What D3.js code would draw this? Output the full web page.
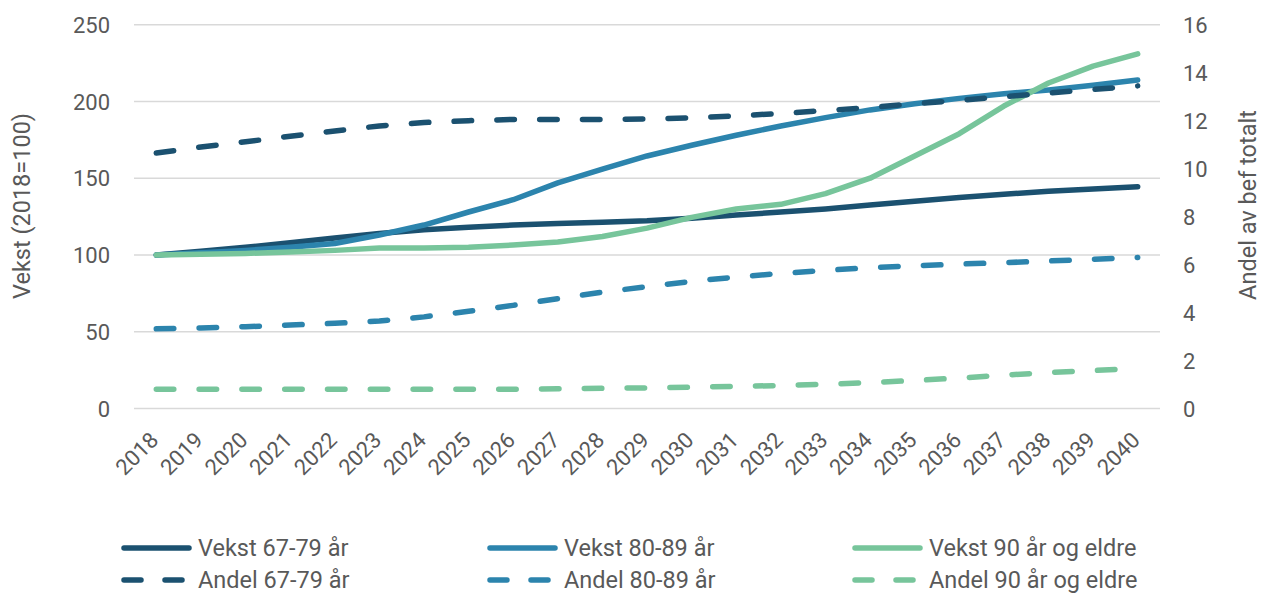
<!DOCTYPE html>
<html>
<head>
<meta charset="utf-8">
<script src="https://cdn.jsdelivr.net/npm/d3@7"></script>
<style>
  html, body { margin: 0; padding: 0; background: #fff; }
  svg { display: block; font-family: Roboto, "Noto Sans", sans-serif; }
</style>
</head>
<body>
<svg id="chart" width="1261" height="593"></svg>
<script>
const years = ["2018","2019","2020","2021","2022","2023","2024","2025","2026","2027","2028","2029","2030","2031","2032","2033","2034","2035","2036","2037","2038","2039","2040"];
const vekst6779 = [100, 102.5, 105, 108, 111, 114, 116.5, 118, 119.5, 120.5, 121.3, 122.3, 124, 126, 128, 130, 132.5, 135, 137.5, 139.5, 141.5, 143, 144.5];
const vekst8089 = [100, 101.5, 103, 105, 107.5, 113, 119.5, 128, 136, 147, 156, 164.5, 171.5, 178, 184, 189.5, 194.5, 198.5, 202, 205, 207.5, 210.5, 214];
const vekst90 = [100, 100.5, 101, 102, 103, 104.5, 104.5, 105, 106.5, 108.5, 112, 117.5, 124.5, 130, 133, 140, 150, 164.5, 179, 197, 212, 223, 231];
const andel6779 = [10.65, 10.9, 11.12, 11.35, 11.57, 11.78, 11.92, 12.0, 12.05, 12.05, 12.05, 12.07, 12.12, 12.2, 12.3, 12.42, 12.55, 12.7, 12.85, 13.0, 13.15, 13.3, 13.45];
const andel8089 = [3.32, 3.36, 3.41, 3.48, 3.55, 3.65, 3.82, 4.05, 4.3, 4.58, 4.85, 5.08, 5.3, 5.48, 5.63, 5.76, 5.87, 5.95, 6.02, 6.08, 6.15, 6.22, 6.3];
const andel90 = [0.8, 0.8, 0.8, 0.8, 0.8, 0.8, 0.8, 0.8, 0.8, 0.82, 0.84, 0.86, 0.89, 0.92, 0.96, 1.01, 1.08, 1.17, 1.27, 1.39, 1.5, 1.58, 1.68];
const leftTicks = [0, 50, 100, 150, 200, 250];
const rightTicks = [0, 2, 4, 6, 8, 10, 12, 14, 16];
const leftTitle = "Vekst (2018=100)";
const rightTitle = "Andel av bef totalt";

const cDark = "#1b5170", cBlue = "#2c84ad", cGreen = "#77c59b";
const textColor = "#595959";

const series = [
  { name: "Vekst 67-79 år", values: vekst6779, axis: "L", color: cDark, dashed: false },
  { name: "Vekst 80-89 år", values: vekst8089, axis: "L", color: cBlue, dashed: false },
  { name: "Vekst 90 år og eldre", values: vekst90, axis: "L", color: cGreen, dashed: false },
  { name: "Andel 67-79 år", values: andel6779, axis: "R", color: cDark, dashed: true },
  { name: "Andel 80-89 år", values: andel8089, axis: "R", color: cBlue, dashed: true },
  { name: "Andel 90 år og eldre", values: andel90, axis: "R", color: cGreen, dashed: true }
];

const svg = d3.select("#chart");
const plot = { left: 134, right: 1160, top: 24.7, bottom: 408.5 };

const x = d3.scalePoint().domain(years).range([plot.left, plot.right]).padding(0.5);
const yL = d3.scaleLinear().domain([0, 250]).range([plot.bottom, plot.top]);
const yR = d3.scaleLinear().domain([0, 16]).range([plot.bottom, plot.top]);

// gridlines
svg.append("g").selectAll("line").data(leftTicks).join("line")
  .attr("x1", plot.left).attr("x2", plot.right)
  .attr("y1", d => yL(d)).attr("y2", d => yL(d))
  .attr("stroke", "#d9d9d9").attr("stroke-width", 1.5);

// left axis
const axL = d3.axisLeft(yL).tickValues(leftTicks).tickSize(0).tickPadding(0);
const gL = svg.append("g").attr("transform", `translate(110,0)`).call(axL);
gL.select(".domain").remove();
gL.selectAll("text").attr("font-size", 22).attr("fill", textColor).attr("font-family", "Roboto").attr("dy", "0.35em");

// right axis
const axR = d3.axisRight(yR).tickValues(rightTicks).tickSize(0).tickPadding(0);
const gR = svg.append("g").attr("transform", `translate(1183,0)`).call(axR);
gR.select(".domain").remove();
gR.selectAll("text").attr("font-size", 22).attr("fill", textColor).attr("font-family", "Roboto").attr("dy", "0.35em");

// x axis labels
const axX = d3.axisBottom(x).tickSize(0).tickPadding(0);
const gX = svg.append("g").call(axX);
gX.select(".domain").remove();
gX.selectAll(".tick").attr("transform", d => `translate(${x(d) - 2},436)`);
gX.selectAll("text")
  .attr("y", 0).attr("dy", "0.35em")
  .attr("text-anchor", "end")
  .attr("transform", "rotate(-45)")
  .attr("font-size", 22).attr("fill", textColor).attr("font-family", "Roboto");

// axis titles
svg.append("text").attr("transform", `translate(22,206) rotate(-90)`)
  .attr("text-anchor", "middle").attr("dy", "0.35em")
  .attr("font-size", 23.5).attr("fill", textColor).text(leftTitle);
svg.append("text").attr("transform", `translate(1248,205) rotate(-90)`)
  .attr("text-anchor", "middle").attr("dy", "0.35em")
  .attr("font-size", 23.5).attr("fill", textColor).text(rightTitle);

// lines
const dash = "17.5,25.3";
series.forEach(s => {
  const yS = s.axis === "L" ? yL : yR;
  const line = d3.line().x((d, i) => x(years[i])).y(d => yS(d));
  svg.append("path").datum(s.values)
    .attr("d", line)
    .attr("fill", "none")
    .attr("stroke", s.color)
    .attr("stroke-width", 5.5)
    .attr("stroke-linejoin", "round")
    .attr("stroke-linecap", "round")
    .attr("stroke-dasharray", s.dashed ? dash : null);
});

// legend
const legCols = [122, 488, 853];
const legRows = [548, 580];
series.forEach((s, k) => {
  const col = k % 3, row = Math.floor(k / 3);
  const lx = legCols[col], ly = legRows[row];
  svg.append("line")
    .attr("x1", lx + 2).attr("x2", lx + 67)
    .attr("y1", ly).attr("y2", ly)
    .attr("stroke", s.color).attr("stroke-width", 5.5)
    .attr("stroke-linecap", "round")
    .attr("stroke-dasharray", s.dashed ? "17,24" : null);
  svg.append("text")
    .attr("x", lx + 76).attr("y", ly).attr("dy", "0.35em")
    .attr("font-size", 23.5).attr("fill", textColor).text(s.name);
});
</script>
</body>
</html>
